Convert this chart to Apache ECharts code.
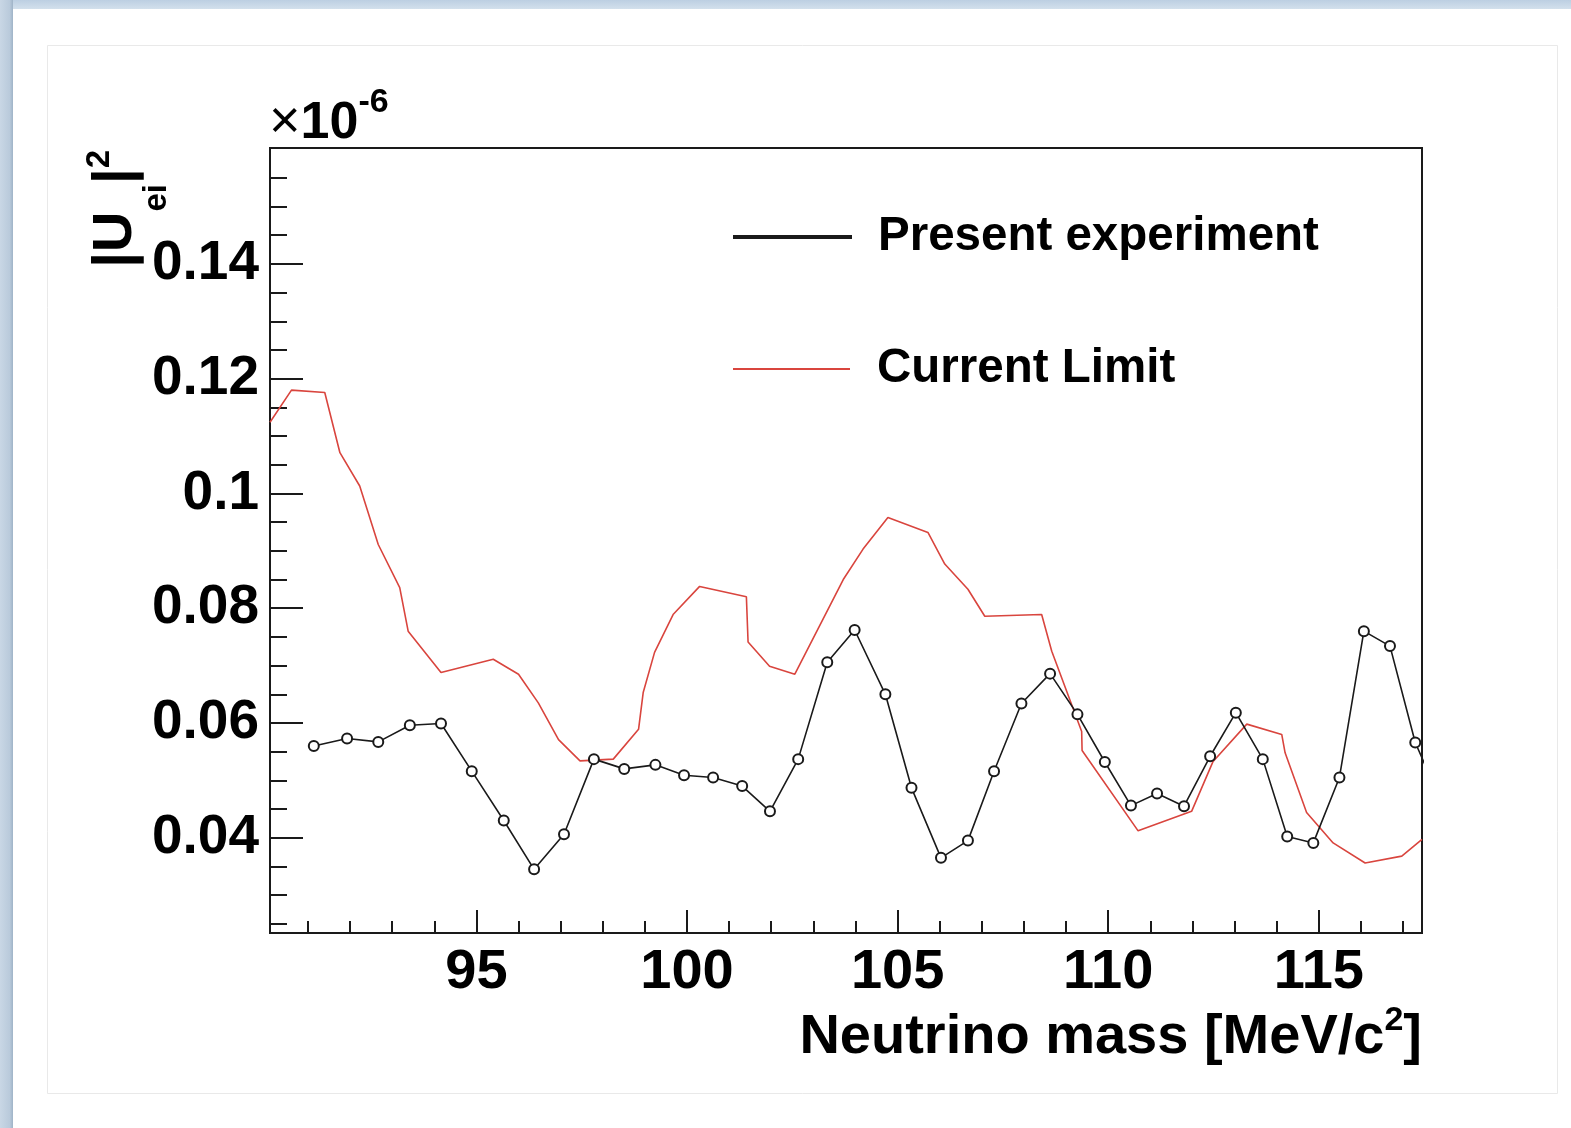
<!DOCTYPE html>
<html>
<head>
<meta charset="utf-8">
<script src="https://cdn.jsdelivr.net/npm/echarts@6/dist/echarts.min.js"></script>
<style>
html,body{margin:0;padding:0;background:#fff;}
#chart{width:1571px;height:1128px;}
</style>
</head>
<body>
<div id="chart"></div>
<script>
// ---- data (|U_ei|^2 in units of 1e-6 vs neutrino mass in MeV/c^2) ----
const expMass = [91.14, 91.93, 92.67, 93.42, 94.16, 94.89, 95.65, 96.37, 97.08, 97.79, 98.51, 99.25, 99.93, 100.62, 101.31, 101.97, 102.64, 103.33, 103.98, 104.71, 105.33, 106.03, 106.67, 107.29, 107.94, 108.62, 109.27, 109.92, 110.54, 111.16, 111.80, 112.42, 113.03, 113.67, 114.25, 114.87, 115.49, 116.07, 116.69, 117.29, 117.88];
const expValue = [0.0560, 0.0573, 0.0567, 0.0596, 0.0599, 0.0516, 0.0430, 0.0345, 0.0406, 0.0537, 0.0520, 0.0527, 0.0509, 0.0505, 0.0490, 0.0446, 0.0537, 0.0706, 0.0762, 0.0650, 0.0487, 0.0365, 0.0395, 0.0516, 0.0634, 0.0686, 0.0615, 0.0532, 0.0456, 0.0477, 0.0455, 0.0542, 0.0618, 0.0537, 0.0402, 0.0391, 0.0505, 0.0760, 0.0734, 0.0566, 0.0467];

const limitMass = [90.1, 90.61, 91.40, 91.76, 92.23, 92.67, 93.18, 93.38, 94.16, 95.40, 96.00, 96.47, 96.95, 97.46, 98.25, 98.85, 98.96, 99.23, 99.67, 100.30, 101.41, 101.45, 101.96, 102.56, 103.71, 104.18, 104.77, 105.72, 106.12, 106.67, 107.07, 108.42, 108.66, 109.37, 109.38, 110.71, 111.98, 112.49, 113.29, 114.12, 114.20, 114.71, 115.34, 116.10, 116.97, 117.45];
const limitValue = [0.1124, 0.1180, 0.1176, 0.1071, 0.1013, 0.0911, 0.0836, 0.0760, 0.0688, 0.0711, 0.0685, 0.0635, 0.0571, 0.0534, 0.0537, 0.0589, 0.0653, 0.0723, 0.0789, 0.0838, 0.0820, 0.0741, 0.0699, 0.0685, 0.0850, 0.0903, 0.0958, 0.0932, 0.0877, 0.0833, 0.0786, 0.0789, 0.0725, 0.0585, 0.0552, 0.0412, 0.0446, 0.0533, 0.0598, 0.0580, 0.0548, 0.0444, 0.0391, 0.0356, 0.0368, 0.0397];

const seriesNames = ['Present experiment', 'Current Limit'];

const xMin = 90.1, xMax = 117.45;
const yMin = 0.0234, yMax = 0.1602;
const xMajorTicks = [95, 100, 105, 110, 115];
const xMajorLabels = ['95', '100', '105', '110', '115'];
const xMinorTicks = [91, 92, 93, 94, 96, 97, 98, 99, 101, 102, 103, 104, 106, 107, 108, 109, 111, 112, 113, 114, 116, 117];
const yMajorTicks = [0.04, 0.06, 0.08, 0.1, 0.12, 0.14];
const yMajorLabels = ['0.04', '0.06', '0.08', '0.1', '0.12', '0.14'];
const yMinorTicks = [0.025, 0.03, 0.035, 0.045, 0.05, 0.055, 0.065, 0.07, 0.075, 0.085, 0.09, 0.095, 0.105, 0.11, 0.115, 0.125, 0.13, 0.135, 0.145, 0.15, 0.155];

const FONT = 'Liberation Sans, Arial, Helvetica, sans-serif';

const chart = echarts.init(document.getElementById('chart'), null, {renderer: 'canvas'});

function pairs(xs, ys) { return xs.map((x, i) => [x, ys[i]]); }
function labelFor(values, labels) {
  return function (v) {
    for (let i = 0; i < values.length; i++) if (Math.abs(values[i] - v) < 1e-9) return labels[i];
    return '';
  };
}

const option = {
  backgroundColor: '#ffffff',
  animation: false,
  graphic: [
    {type: 'rect', z: -10, shape: {x: 0, y: 0, width: 1571, height: 9},
      style: {fill: new echarts.graphic.LinearGradient(0, 0, 0, 1, [{offset: 0, color: '#bccfe2'}, {offset: 1, color: '#d3e0ec'}])}},
    {type: 'rect', z: -10, shape: {x: 0, y: 0, width: 13, height: 1128},
      style: {fill: new echarts.graphic.LinearGradient(0, 0, 1, 0, [{offset: 0, color: '#c9d7e5'}, {offset: 0.75, color: '#b9cadb'}, {offset: 1, color: '#9fb3c7'}])}},
    {type: 'rect', z: -9, shape: {x: 47.5, y: 45.5, width: 1510, height: 1048},
      style: {fill: '#ffffff', stroke: '#e9e9e9', lineWidth: 1}},
    // x10^-6 multiplier
    {type: 'text', x: 269, y: 150, style: {
      text: '{x|×}{a|10}{s|-6}', textAlign: 'left', textVerticalAlign: 'bottom',
      rich: {
        x: {fontFamily: FONT, fontWeight: 'normal', fontSize: 54, fill: '#000', verticalAlign: 'bottom', lineHeight: 64},
        a: {fontFamily: FONT, fontWeight: 'bold', fontSize: 52, fill: '#000', verticalAlign: 'bottom', lineHeight: 64},
        s: {fontFamily: FONT, fontWeight: 'bold', fontSize: 34, fill: '#000', verticalAlign: 'top', lineHeight: 36}
      }}},
    // y-axis title |U_ei|^2 (rotated)
    {type: 'text', x: 116, y: 150, rotation: Math.PI / 2, style: {
      text: '{a||U}{b|ei}{a||}{c|2}', textAlign: 'right', textVerticalAlign: 'middle',
      rich: {
        a: {fontFamily: FONT, fontWeight: 'bold', fontSize: 56, fill: '#000', lineHeight: 114, verticalAlign: 'middle'},
        b: {fontFamily: FONT, fontWeight: 'bold', fontSize: 33, fill: '#000', lineHeight: 34, verticalAlign: 'bottom'},
        c: {fontFamily: FONT, fontWeight: 'bold', fontSize: 33, fill: '#000', lineHeight: 34, verticalAlign: 'top', padding: [24, 0, 0, 0]}
      }}},
    // x-axis title
    {type: 'text', x: 1422, y: 1066, style: {
      text: '{a|Neutrino mass [MeV/c}{s|2}{a|]}', textAlign: 'right', textVerticalAlign: 'bottom',
      rich: {
        a: {fontFamily: FONT, fontWeight: 'bold', fontSize: 56, fill: '#000', lineHeight: 66, verticalAlign: 'bottom'},
        s: {fontFamily: FONT, fontWeight: 'bold', fontSize: 34, fill: '#000', lineHeight: 66, verticalAlign: 'top', padding: [4, 0, 0, 0]}
      }}}
  ],
  legend: [
    {data: [seriesNames[0]], left: 733, top: 212, padding: 0, orient: 'vertical',
      icon: 'rect', itemWidth: 117, itemHeight: 2,
      textStyle: {fontFamily: FONT, fontWeight: 'bold', fontSize: 47.5, color: '#000', lineHeight: 50, padding: [0, 0, 0, 22]}},
    {data: [seriesNames[1]], left: 733, top: 344, padding: 0, orient: 'vertical',
      icon: 'rect', itemWidth: 117, itemHeight: 2,
      textStyle: {fontFamily: FONT, fontWeight: 'bold', fontSize: 47.5, color: '#000', lineHeight: 50, padding: [0, 0, 0, 22]}}
  ],
  grid: {left: 270, top: 148, width: 1152, height: 785, show: true, borderColor: '#1a1a1a', borderWidth: 2, backgroundColor: 'transparent', containLabel: false},
  xAxis: [
    {type: 'value', min: xMin, max: xMax, position: 'bottom',
      axisLine: {show: true, lineStyle: {color: '#1a1a1a', width: 2}},
      axisTick: {show: true, inside: true, length: 23, customValues: xMajorTicks, lineStyle: {color: '#1a1a1a', width: 2}},
      axisLabel: {show: true, customValues: xMajorTicks, formatter: labelFor(xMajorTicks, xMajorLabels), margin: 12,
        fontFamily: FONT, fontWeight: 'bold', fontSize: 56, color: '#000'},
      splitLine: {show: false}},
    {type: 'value', min: xMin, max: xMax, position: 'bottom',
      axisLine: {show: false},
      axisTick: {show: true, inside: true, length: 12, customValues: xMinorTicks, lineStyle: {color: '#1a1a1a', width: 2}},
      axisLabel: {show: false},
      splitLine: {show: false}}
  ],
  yAxis: [
    {type: 'value', min: yMin, max: yMax, position: 'left',
      axisLine: {show: true, lineStyle: {color: '#1a1a1a', width: 2}},
      axisTick: {show: true, inside: true, length: 33, customValues: yMajorTicks, lineStyle: {color: '#1a1a1a', width: 2}},
      axisLabel: {show: true, customValues: yMajorTicks, formatter: labelFor(yMajorTicks, yMajorLabels), margin: 11,
        fontFamily: FONT, fontWeight: 'bold', fontSize: 55, color: '#000'},
      splitLine: {show: false}},
    {type: 'value', min: yMin, max: yMax, position: 'left',
      axisLine: {show: false},
      axisTick: {show: true, inside: true, length: 17, customValues: yMinorTicks, lineStyle: {color: '#1a1a1a', width: 2}},
      axisLabel: {show: false},
      splitLine: {show: false}}
  ],
  series: [
    {name: seriesNames[0], type: 'line', xAxisIndex: 0, yAxisIndex: 0,
      data: pairs(expMass, expValue), clip: true, showAllSymbol: true,
      symbol: 'emptyCircle', symbolSize: 10,
      lineStyle: {color: '#1a1a1a', width: 1.6},
      itemStyle: {color: '#1a1a1a', borderColor: '#1a1a1a', borderWidth: 1.8},
      z: 3},
    {name: seriesNames[1], type: 'line', xAxisIndex: 0, yAxisIndex: 0,
      data: pairs(limitMass, limitValue), clip: true, showSymbol: false, symbol: 'none',
      lineStyle: {color: '#d9453e', width: 1.6},
      itemStyle: {color: '#d9453e'},
      z: 2}
  ]
};
chart.setOption(option);
</script>
</body>
</html>
